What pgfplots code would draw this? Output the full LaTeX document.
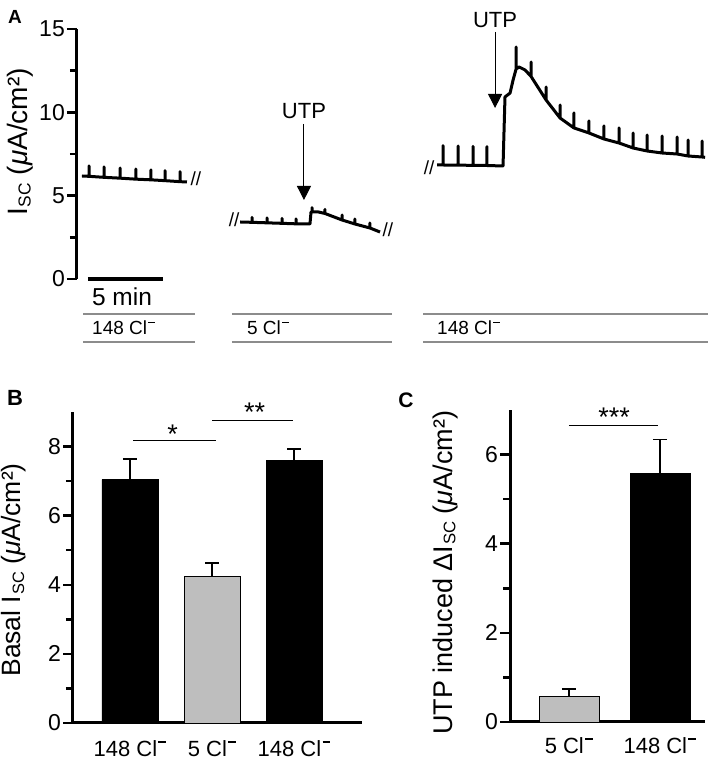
\documentclass[border=0pt]{standalone}
\usepackage{pgfplots}
\pgfplotsset{compat=1.18}
\usepackage{fontspec}
\setmainfont{Liberation Sans}
\usetikzlibrary{arrows.meta}
\pgfplotsset{/pgf/number format/assume math mode=true}
\newcommand\Cl{Cl\kern0.06em\raisebox{0.62em}{\rule{0.36em}{0.07em}}}
\newcommand\Isc{I\kern0.03em\raisebox{-0.12em}{\fontsize{0.62em}{0.62em}\selectfont SC}}
\newcommand\fs[1]{\fontsize{#1}{#1}\selectfont}
\definecolor{solgray}{RGB}{140,140,140}
\definecolor{bargray}{RGB}{190,190,190}
\begin{document}
\begin{tikzpicture}[x=1pt,y=1pt]
\useasboundingbox (0,0) rectangle (709,760);
% ---------------- Panel A ----------------
\begin{axis}[
  at={(77pt,481pt)}, anchor=south west, scale only axis,
  width=632pt, height=250pt,
  xmin=0, xmax=42.13, ymin=0, ymax=15,
  hide x axis, axis y line*=left,
  y axis line style={line width=3pt},
  ytick={0,5,10,15}, minor ytick={2.5,7.5,12.5},
  ytick pos=left, tick align=outside,
  major tick length=10pt, minor tick length=7pt,
  every tick/.style={line width=2.5pt, black},
  yticklabel style={font=\fs{23}, inner sep=2pt},
  ylabel={\Isc\ (\textit{μ}A/cm²)},
  ylabel style={font=\fs{28}, at={(axis description cs:-0.09,0.548)}, anchor=center},
  clip=false,
]
\addplot[line width=3pt, line join=round] coordinates {
(0.33,6.18)
(0.80,6.16)(0.80,6.78)(0.80,6.16)
(1.80,6.10)(1.80,6.72)(1.80,6.10)
(2.87,6.05)(2.87,6.66)(2.87,6.05)
(3.93,5.99)(3.93,6.60)(3.93,5.99)
(4.93,5.95)(4.93,6.55)(4.93,5.95)
(5.87,5.90)(5.87,6.50)(5.87,5.90)
(6.87,5.84)(6.87,6.44)(6.87,5.84)
(7.33,5.82)};
\addplot[line width=3pt, line join=round] coordinates {
(10.87,3.42)
(11.67,3.40)(11.67,3.70)(11.67,3.40)
(12.67,3.37)(12.67,3.67)(12.67,3.37)
(13.67,3.34)(13.67,3.64)(13.67,3.34)
(14.60,3.31)(14.60,3.61)(14.60,3.31)
(15.53,3.30)
(15.60,4.02)
(15.67,4.02)(15.67,4.28)(15.67,4.02)
(16.10,4.02)
(16.53,3.93)(16.53,4.18)(16.53,3.93)
(17.67,3.54)(17.67,3.84)(17.67,3.54)
(18.53,3.30)(18.53,3.60)(18.53,3.30)
(19.53,3.06)(19.53,3.36)(19.53,3.06)
(20.2,2.82)};
\addplot[line width=3pt, line join=round] coordinates {
(24.0,6.84)
(24.4,6.84)(24.4,8.00)(24.4,6.84)
(25.4,6.83)(25.4,7.98)(25.4,6.83)
(26.4,6.82)(26.4,7.96)(26.4,6.82)
(27.33,6.81)(27.33,7.94)(27.33,6.81)
(28.4,6.78)
(28.53,10.92)
(28.87,11.16)
(29.07,11.94)
(29.27,12.6)(29.27,13.92)(29.27,12.6)
(29.47,12.72)
(29.87,12.54)
(30.27,12.15)(30.27,13.02)(30.27,12.15)
(31.27,10.74)(31.27,11.52)(31.27,10.74)
(32.2,9.66)(32.2,10.44)(32.2,9.66)
(33.13,9.06)(33.13,9.96)(33.13,9.06)
(34.13,8.76)(34.13,9.48)(34.13,8.76)
(35.13,8.40)(35.13,9.18)(35.13,8.40)
(36.13,8.16)(36.13,9.06)(36.13,8.16)
(37.07,7.86)(37.07,8.76)(37.07,7.86)
(38.0,7.68)(38.0,8.64)(38.0,7.68)
(39.0,7.56)(39.0,8.58)(39.0,7.56)
(40.0,7.50)(40.0,8.52)(40.0,7.50)
(40.73,7.38)(40.73,8.34)(40.73,7.38)
(41.67,7.32)(41.67,8.28)(41.67,7.32)
(41.87,7.30)};
% scale bar
\addplot[line width=3.5pt] coordinates {(0.73,0) (5.73,0)};
\node[font=\fs{24.5}] at (axis cs:3.0,-1.08) {5 min};
% break marks
\node[font=\fs{19}] at (axis cs:7.93,6.0) {//};
\node[font=\fs{19}] at (axis cs:10.47,3.54) {//};
\node[font=\fs{19}] at (axis cs:20.73,2.94) {//};
\node[font=\fs{19}] at (axis cs:23.47,6.66) {//};
% UTP arrows
\draw[line width=1pt, -{Triangle[width=14pt,length=14pt]}] (axis cs:15.13,9.3) -- (axis cs:15.13,4.74);
\node[font=\fs{22}] at (axis cs:15.13,10.1) {UTP};
\draw[line width=1pt, -{Triangle[width=14pt,length=14pt]}] (axis cs:27.87,14.82) -- (axis cs:27.87,10.26);
\node[font=\fs{22}] at (axis cs:27.87,15.56) {UTP};
% solution bars
\draw[solgray, line width=1.2pt] (axis cs:0.4,-2.10) -- (axis cs:7.87,-2.10);
\draw[solgray, line width=1.2pt] (axis cs:0.4,-3.78) -- (axis cs:7.87,-3.78);
\draw[solgray, line width=1.2pt] (axis cs:10.33,-2.10) -- (axis cs:21.0,-2.10);
\draw[solgray, line width=1.2pt] (axis cs:10.33,-3.78) -- (axis cs:21.0,-3.78);
\draw[solgray, line width=1.2pt] (axis cs:23.07,-2.10) -- (axis cs:42.07,-2.10);
\draw[solgray, line width=1.2pt] (axis cs:23.07,-3.78) -- (axis cs:42.07,-3.78);
\node[font=\fs{19}, anchor=west, inner sep=0pt] at (axis cs:1.0,-2.94) {148 \Cl};
\node[font=\fs{19}, anchor=west, inner sep=0pt] at (axis cs:11.33,-2.94) {5 \Cl};
\node[font=\fs{19}, anchor=west, inner sep=0pt] at (axis cs:24.0,-2.94) {148 \Cl};
\end{axis}
% ---------------- Panel B ----------------
\begin{axis}[
  at={(73pt,37pt)}, anchor=south west, scale only axis,
  width=289pt, height=311pt,
  xmin=-0.695, xmax=2.829, ymin=0, ymax=9,
  axis x line*=bottom, axis y line*=left,
  axis line style={line width=3pt},
  ytick={0,2,4,6,8}, minor ytick={1,3,5,7},
  ytick pos=left, tick align=outside,
  major tick length=10pt, minor tick length=7pt,
  every tick/.style={line width=2.5pt, black},
  xtick={0,1,2}, xticklabels={148 \Cl, 5 \Cl, 148 \Cl},
  xtick style={draw=none},
  xticklabel style={font=\fs{22}, yshift=-4pt},
  yticklabel style={font=\fs{23}, inner sep=2pt},
  ylabel={Basal \Isc\ (\textit{μ}A/cm²)},
  ylabel style={font=\fs{26.5}, at={(axis description cs:-0.204,0.492)}, anchor=center},
  ybar, bar width=56pt, bar shift=0pt,
  clip=false,
]
\addplot[fill=black, draw=black, line width=0.8pt,
  error bars/.cd, y dir=plus, y explicit,
  error bar style={line width=1.8pt},
  error mark options={rotate=90, mark size=7pt, line width=1.8pt}]
  coordinates {(0,7.04) +- (0,0.61) (2,7.59) +- (0,0.35)};
\addplot[fill=bargray, draw=black, line width=0.8pt,
  error bars/.cd, y dir=plus, y explicit,
  error bar style={line width=1.8pt},
  error mark options={rotate=90, mark size=7pt, line width=1.8pt}]
  coordinates {(1,4.23) +- (0,0.41)};
\draw[line width=1.3pt] (axis cs:0.037,8.17) -- (axis cs:1.05,8.17);
\node[font=\fs{27}] at (axis cs:0.52,8.35) {*};
\draw[line width=1.3pt] (axis cs:1.0,8.75) -- (axis cs:1.99,8.75);
\node[font=\fs{27}] at (axis cs:1.52,8.99) {**};
\end{axis}
% ---------------- Panel C ----------------
\begin{axis}[
  at={(510pt,38pt)}, anchor=south west, scale only axis,
  width=195pt, height=312pt,
  xmin=-0.648, xmax=1.495, ymin=0, ymax=7,
  axis x line*=bottom, axis y line*=left,
  axis line style={line width=3pt},
  ytick={0,2,4,6}, minor ytick={1,3,5},
  ytick pos=left, tick align=outside,
  major tick length=10pt, minor tick length=7pt,
  every tick/.style={line width=2.5pt, black},
  xtick={0,1}, xticklabels={5 \Cl, 148 \Cl},
  xtick style={draw=none},
  xticklabel style={font=\fs{22}, yshift=-2pt},
  yticklabel style={font=\fs{23}, inner sep=2pt},
  ylabel={UTP induced Δ\Isc\ (\textit{μ}A/cm²)},
  ylabel style={font=\fs{27}, at={(axis description cs:-0.333,0.478)}, anchor=center},
  ybar, bar width=60pt, bar shift=0pt,
  clip=false,
]
\addplot[fill=bargray, draw=black, line width=0.8pt,
  error bars/.cd, y dir=plus, y explicit,
  error bar style={line width=1.8pt},
  error mark options={rotate=90, mark size=7pt, line width=1.8pt}]
  coordinates {(0,0.58) +- (0,0.16)};
\addplot[fill=black, draw=black, line width=0.8pt,
  error bars/.cd, y dir=plus, y explicit,
  error bar style={line width=1.8pt},
  error mark options={rotate=90, mark size=7pt, line width=1.8pt}]
  coordinates {(1,5.57) +- (0,0.77)};
\draw[line width=1.3pt] (axis cs:0.0,6.65) -- (axis cs:0.978,6.65);
\node[font=\fs{27}] at (axis cs:0.495,6.83) {***};
\end{axis}
% panel letters
\node[font=\fs{19}\bfseries] at (15,743) {A};
\node[font=\fs{22}\bfseries] at (15,362) {B};
\node[font=\fs{21}\bfseries] at (406,360) {C};
\end{tikzpicture}
\end{document}
